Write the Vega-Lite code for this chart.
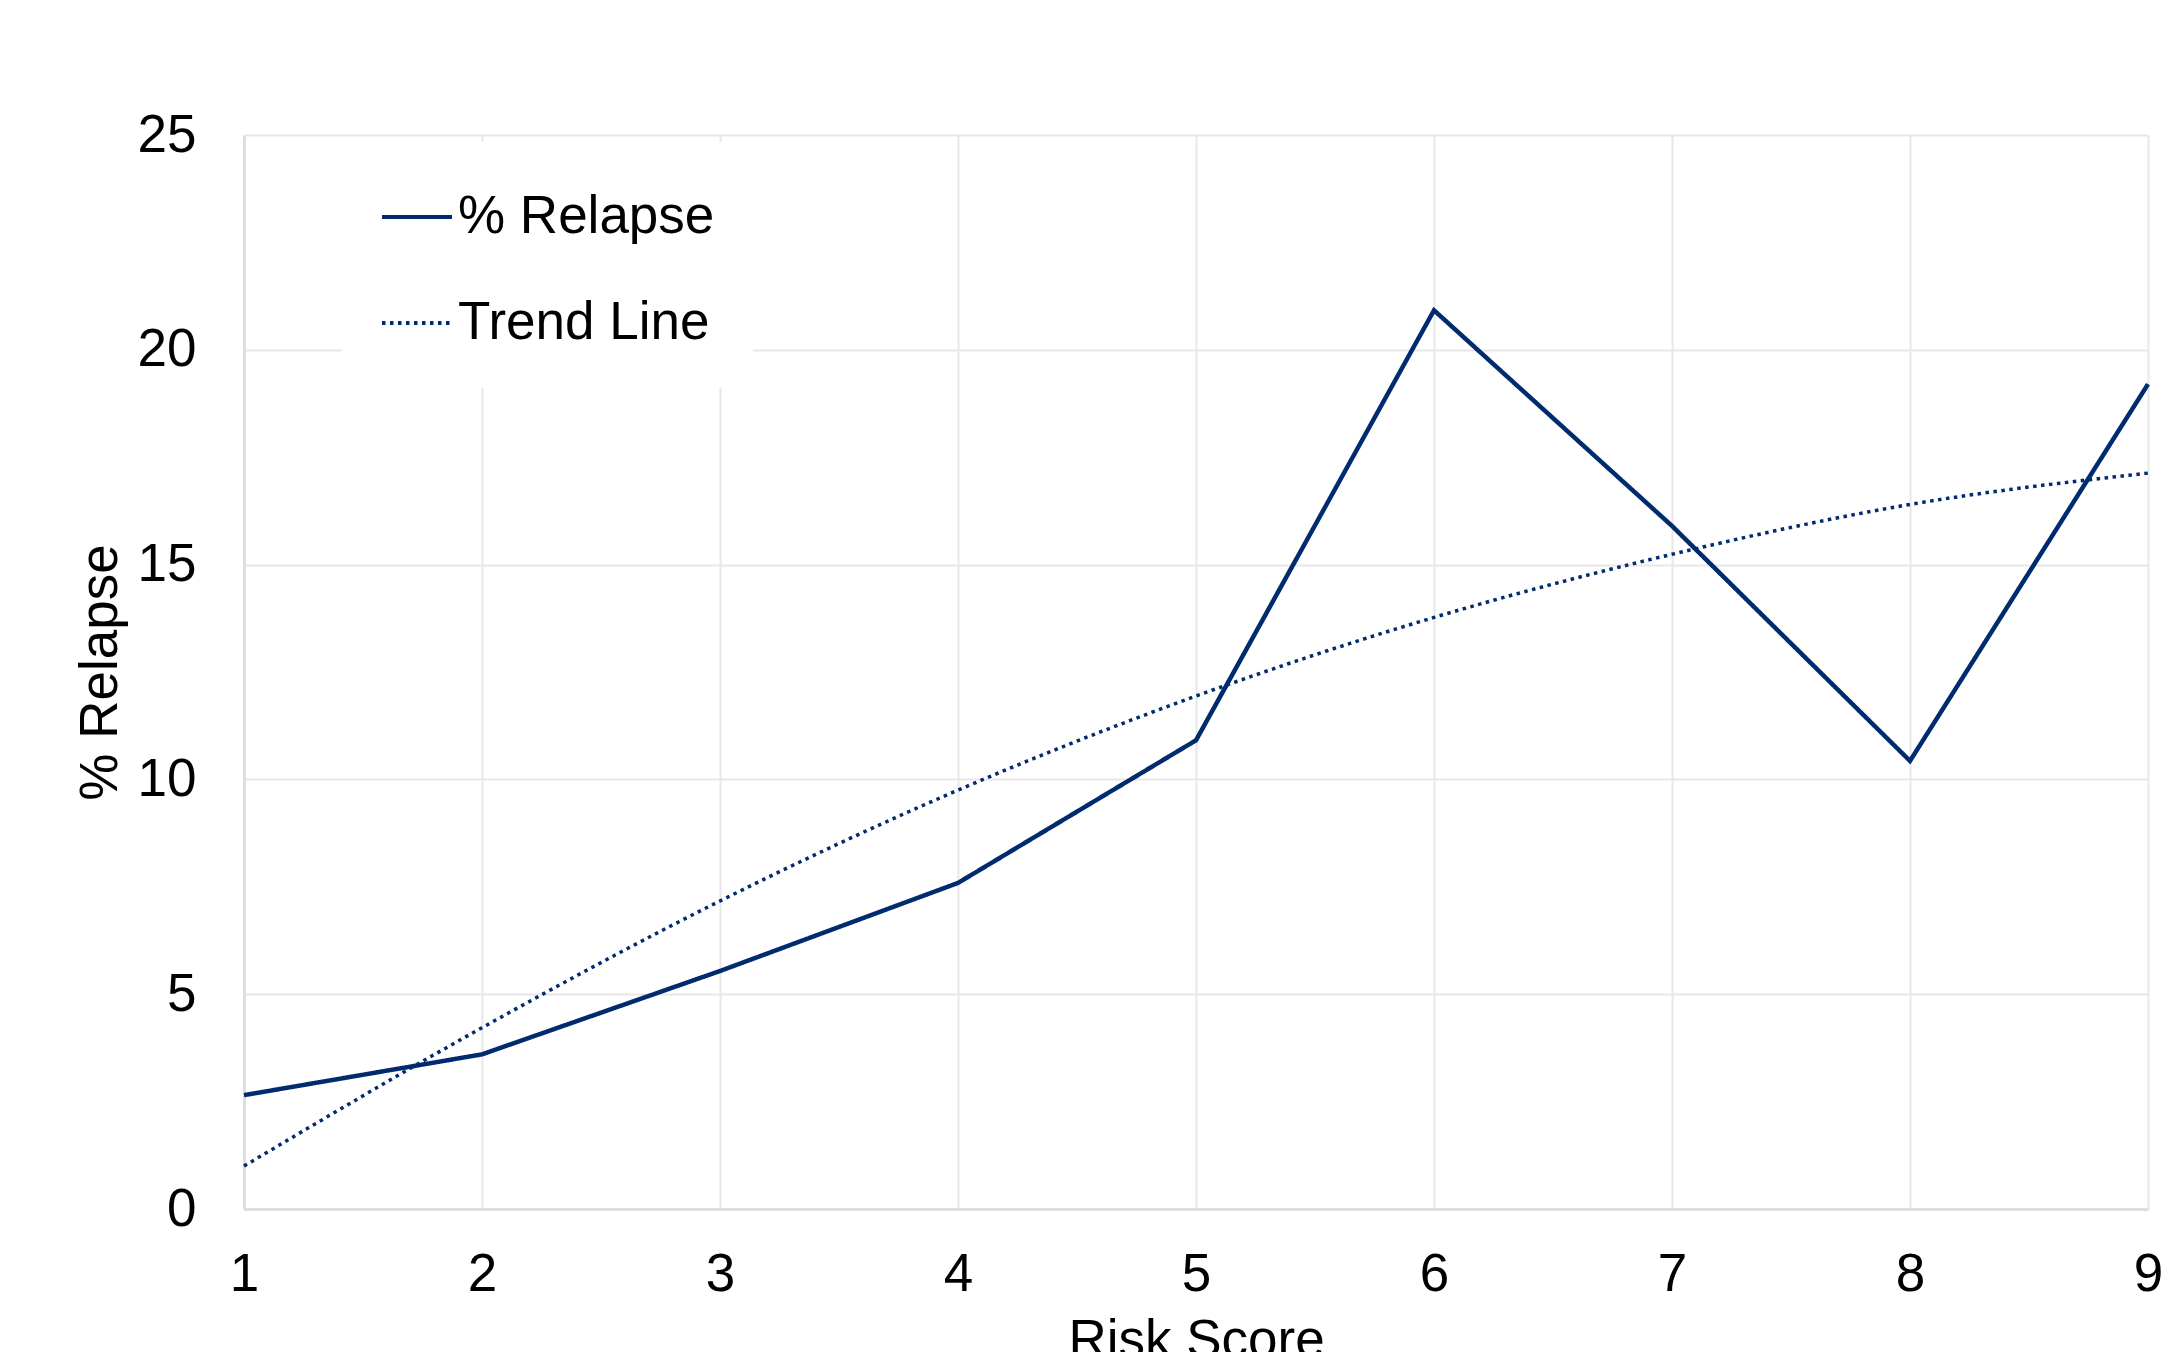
{
  "$schema": "https://vega.github.io/schema/vega-lite/v6.json",
  "autosize": {"type": "none"},
  "width": 1904,
  "height": 1074,
  "padding": {"left": 244, "top": 135, "right": 22, "bottom": 143},
  "background": "white",
  "config": {
    "font": "Liberation Sans",
    "view": {"stroke": null},
    "axis": {
      "labelFont": "Liberation Sans",
      "titleFont": "Liberation Sans",
      "labelFontSize": 53,
      "titleFontSize": 53,
      "labelColor": "#000000",
      "titleColor": "#000000",
      "titleFontWeight": "normal",
      "ticks": false,
      "gridColor": "#e8e8e8",
      "gridWidth": 2,
      "domainColor": "#dedede",
      "domainWidth": 3
    }
  },
  "datasets": {
    "relapse": [
      {"score": 1, "value": 2.65, "series": "% Relapse"},
      {"score": 2, "value": 3.6, "series": "% Relapse"},
      {"score": 3, "value": 5.54, "series": "% Relapse"},
      {"score": 4, "value": 7.59, "series": "% Relapse"},
      {"score": 5, "value": 10.91, "series": "% Relapse"},
      {"score": 6, "value": 20.92, "series": "% Relapse"},
      {"score": 7, "value": 15.9, "series": "% Relapse"},
      {"score": 8, "value": 10.43, "series": "% Relapse"},
      {"score": 9, "value": 19.2, "series": "% Relapse"}
    ],
    "trend": [
      {"score": 1, "value": 1.0, "series": "Trend Line"},
      {"score": 2, "value": 4.22, "series": "Trend Line"},
      {"score": 3, "value": 7.17, "series": "Trend Line"},
      {"score": 4, "value": 9.75, "series": "Trend Line"},
      {"score": 5, "value": 11.94, "series": "Trend Line"},
      {"score": 6, "value": 13.77, "series": "Trend Line"},
      {"score": 7, "value": 15.24, "series": "Trend Line"},
      {"score": 8, "value": 16.4, "series": "Trend Line"},
      {"score": 9, "value": 17.13, "series": "Trend Line"}
    ]
  },
  "encoding": {
    "x": {
      "field": "score",
      "type": "quantitative",
      "scale": {"domain": [1, 9], "nice": false, "zero": false},
      "axis": {
        "title": "Risk Score",
        "values": [1, 2, 3, 4, 5, 6, 7, 8, 9],
        "labelPadding": 39,
        "titlePadding": 13,
        "labelFlush": false,
        "labelOverlap": false
      }
    },
    "y": {
      "field": "value",
      "type": "quantitative",
      "scale": {"domain": [0, 25], "nice": false},
      "axis": {
        "title": "% Relapse",
        "values": [0, 5, 10, 15, 20, 25],
        "labelPadding": 48,
        "titlePadding": 10,
        "labelOverlap": false
      }
    },
    "strokeDash": {
      "field": "series",
      "type": "nominal",
      "scale": {"domain": ["% Relapse", "Trend Line"], "range": [[1, 0], [3.5, 4.5]]},
      "legend": {
        "title": null,
        "orient": "none",
        "legendX": 98,
        "legendY": 7,
        "fillColor": "white",
        "padding": 38,
        "symbolType": "stroke",
        "symbolSize": 4900,
        "symbolStrokeWidth": 4,
        "symbolStrokeColor": "#002b6f",
        "labelFont": "Liberation Sans",
        "labelFontSize": 53,
        "labelColor": "#000000",
        "labelOffset": 4,
        "labelLimit": 600,
        "rowPadding": 42
      }
    }
  },
  "layer": [
    {
      "data": {"name": "relapse"},
      "mark": {"type": "line", "color": "#002b6f", "strokeWidth": 4.5}
    },
    {
      "data": {"name": "trend"},
      "mark": {"type": "line", "color": "#002b6f", "strokeWidth": 3.5, "interpolate": "monotone"}
    }
  ]
}
